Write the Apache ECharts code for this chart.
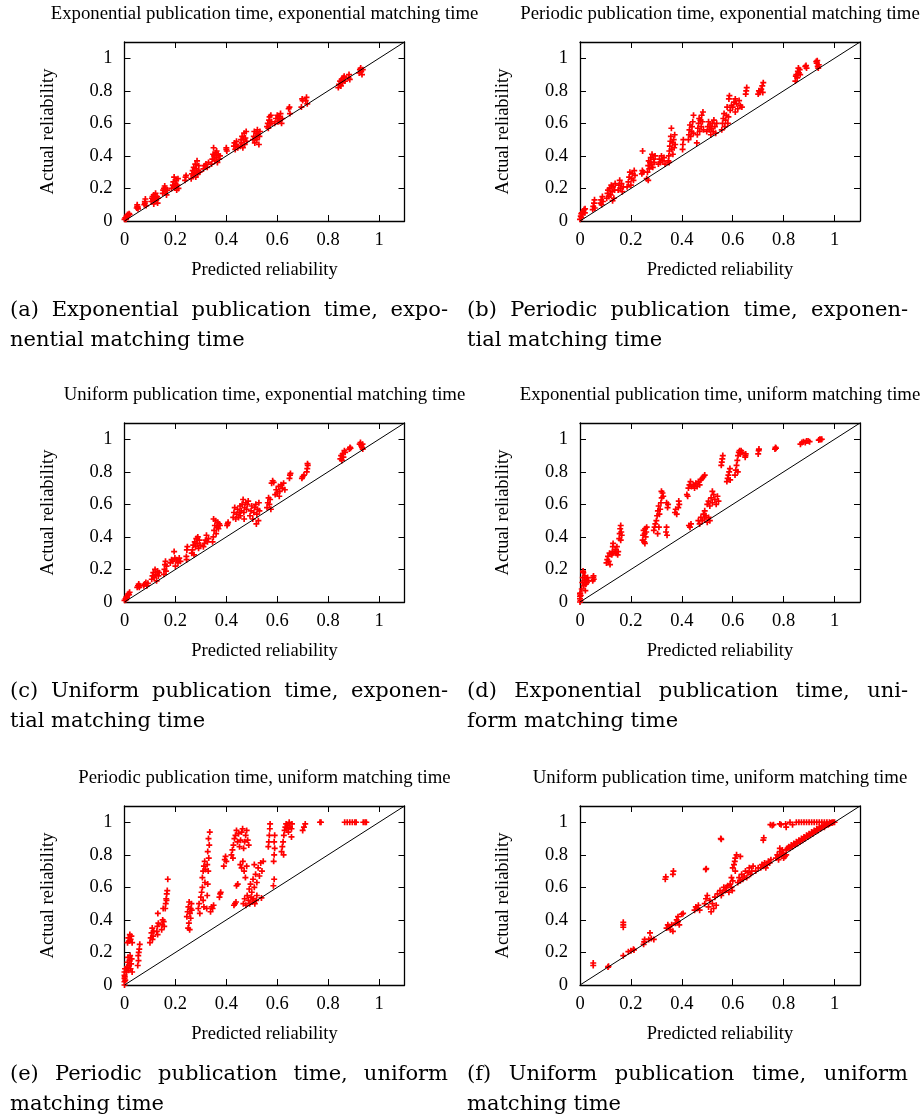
<!DOCTYPE html>
<html>
<head>
<meta charset="utf-8">
<script src="https://cdn.jsdelivr.net/npm/echarts@6/dist/echarts.min.js"></script>
<style>
html,body{margin:0;padding:0;background:#fff;}
#chart{width:924px;height:1118px;}
</style>
</head>
<body>
<div id="chart"></div>
<script>
// ---------------- data ----------------
const tickValues = [0, 0.2, 0.4, 0.6, 0.8, 1];
const axisMin = 0, axisMax = 1.1, axisStep = 0.2;
const xAxisName = 'Predicted reliability';
const yAxisName = 'Actual reliability';

const panelTitles = [
  'Exponential publication time, exponential matching time',
  'Periodic publication time, exponential matching time',
  'Uniform publication time, exponential matching time',
  'Exponential publication time, uniform matching time',
  'Periodic publication time, uniform matching time',
  'Uniform publication time, uniform matching time'
];

const captions = [
  ['(a) Exponential publication time, expo-', 'nential matching time'],
  ['(b) Periodic publication time, exponen-', 'tial matching time'],
  ['(c) Uniform publication time, exponen-', 'tial matching time'],
  ['(d) Exponential publication time, uni-', 'form matching time'],
  ['(e) Periodic publication time, uniform', 'matching time'],
  ['(f) Uniform publication time, uniform', 'matching time']
];

const diagonal = [[0, 0], [1.1, 1.1]];

const dataA = [
[0,0.01],[0.003,0.02],[0.005,0.015],[0.008,0.03],[0.01,0.025],[0.012,0.04],[0.015,0.035],[0.018,0.045],[0.02,0.04],[0.006,0.01],
[0.048,0.08],[0.05,0.09],[0.052,0.085],[0.05,0.1],[0.053,0.075],
[0.078,0.1],[0.08,0.12],[0.082,0.135],[0.08,0.11],[0.085,0.095],
[0.105,0.12],[0.108,0.14],[0.11,0.15],[0.112,0.13],[0.115,0.16],[0.118,0.12],[0.12,0.14],[0.122,0.17],[0.125,0.13],[0.128,0.15],[0.13,0.11],[0.132,0.14],[0.115,0.105],
[0.15,0.17],[0.152,0.19],[0.155,0.2],[0.158,0.215],[0.16,0.18],[0.162,0.2],[0.165,0.16],[0.168,0.19],
[0.185,0.2],[0.19,0.22],[0.192,0.24],[0.195,0.27],[0.198,0.21],[0.2,0.23],[0.203,0.25],[0.205,0.19],[0.208,0.22],[0.21,0.26],[0.212,0.2],
[0.238,0.25],[0.24,0.27],[0.242,0.28],
[0.262,0.26],[0.265,0.29],[0.268,0.31],[0.27,0.28],[0.272,0.33],[0.275,0.3],[0.278,0.35],[0.28,0.27],[0.282,0.32],[0.285,0.37],[0.288,0.29],[0.29,0.31],[0.292,0.34],[0.295,0.3],
[0.31,0.32],[0.315,0.34],[0.32,0.35],[0.325,0.33],[0.33,0.36],
[0.342,0.35],[0.345,0.38],[0.348,0.41],[0.35,0.45],[0.352,0.4],[0.355,0.37],[0.358,0.42],[0.36,0.39],[0.362,0.43],[0.365,0.36],[0.368,0.41],[0.372,0.38],[0.375,0.4],
[0.4,0.44],[0.4,0.45],[0.402,0.43],
[0.43,0.46],[0.432,0.48],[0.435,0.44],[0.438,0.47],[0.44,0.49],[0.445,0.45],
[0.455,0.46],[0.458,0.5],[0.46,0.48],[0.462,0.52],[0.465,0.45],[0.468,0.5],[0.47,0.54],[0.472,0.47],[0.475,0.51],[0.478,0.55],[0.48,0.49],
[0.505,0.5],[0.508,0.52],[0.51,0.55],[0.512,0.48],[0.515,0.51],[0.518,0.54],[0.52,0.5],[0.522,0.56],[0.525,0.53],[0.528,0.47],[0.53,0.52],[0.532,0.55],
[0.56,0.58],[0.563,0.6],[0.565,0.57],[0.568,0.62],[0.57,0.64],[0.572,0.59],[0.575,0.65],[0.578,0.61],
[0.59,0.6],[0.595,0.63],[0.6,0.65],[0.603,0.61],[0.607,0.64],[0.61,0.62],[0.613,0.66],[0.617,0.6],[0.62,0.63],
[0.645,0.69],[0.648,0.7],[0.65,0.66],
[0.695,0.7],[0.698,0.75],[0.7,0.74],[0.712,0.74],[0.715,0.76],[0.718,0.72],
[0.84,0.82],[0.843,0.84],[0.847,0.86],[0.85,0.83],[0.853,0.87],[0.857,0.85],[0.86,0.88],[0.863,0.89],[0.866,0.86],[0.88,0.88],[0.882,0.9],[0.885,0.87],
[0.922,0.91],[0.925,0.93],[0.928,0.94],[0.93,0.92],[0.933,0.9],[0.936,0.93]
];

const dataB = [
[0,0.01],[0.003,0.03],[0.006,0.02],[0.008,0.05],[0.01,0.04],[0.013,0.06],[0.016,0.07],[0.019,0.05],[0.02,0.075],[0.005,0.045],
[0.05,0.07],[0.052,0.09],[0.055,0.11],[0.057,0.13],[0.058,0.08],
[0.08,0.11],[0.083,0.13],[0.085,0.1],[0.088,0.15],[0.09,0.12],
[0.105,0.14],[0.108,0.17],[0.11,0.19],[0.113,0.15],[0.116,0.2],[0.12,0.16],[0.123,0.22],[0.126,0.18],[0.13,0.21],[0.133,0.14],[0.136,0.19],[0.138,0.23],[0.128,0.125],
[0.15,0.19],[0.153,0.22],[0.156,0.25],[0.16,0.2],[0.163,0.23],[0.166,0.18],[0.17,0.21],
[0.185,0.21],[0.19,0.24],[0.193,0.27],[0.196,0.3],[0.2,0.22],[0.203,0.26],[0.206,0.29],[0.21,0.25],[0.213,0.31],[0.216,0.28],
[0.243,0.29],[0.245,0.31],[0.246,0.43],[0.248,0.3],
[0.262,0.26],[0.265,0.3],[0.268,0.34],[0.27,0.37],[0.272,0.32],[0.275,0.36],[0.278,0.39],[0.28,0.35],[0.283,0.41],[0.286,0.33],[0.289,0.38],[0.292,0.36],[0.295,0.4],[0.268,0.25],
[0.308,0.35],[0.312,0.38],[0.316,0.36],[0.32,0.4],[0.325,0.37],[0.33,0.39],[0.334,0.35],
[0.347,0.37],[0.349,0.4],[0.351,0.43],[0.353,0.46],[0.355,0.49],[0.357,0.52],[0.359,0.57],[0.361,0.44],[0.363,0.48],[0.365,0.41],[0.368,0.5],[0.37,0.45],[0.372,0.53],[0.374,0.47],[0.35,0.36],
[0.403,0.44],[0.404,0.47],[0.406,0.5],
[0.426,0.5],[0.428,0.53],[0.43,0.56],[0.432,0.59],[0.435,0.52],[0.438,0.55],[0.44,0.58],[0.443,0.61],[0.446,0.65],[0.445,0.54],
[0.459,0.48],[0.461,0.53],[0.463,0.57],[0.466,0.6],[0.468,0.63],[0.47,0.55],[0.473,0.62],[0.476,0.58],[0.478,0.65],[0.481,0.61],[0.483,0.67],[0.485,0.56],
[0.498,0.55],[0.502,0.58],[0.505,0.61],[0.508,0.56],[0.511,0.59],[0.514,0.53],[0.517,0.57],[0.52,0.6],[0.523,0.55],[0.526,0.62],[0.53,0.58],[0.533,0.54],[0.537,0.6],
[0.557,0.56],[0.56,0.6],[0.563,0.63],[0.566,0.66],[0.569,0.58],[0.572,0.62],[0.575,0.65],[0.578,0.7],[0.581,0.6],[0.583,0.64],
[0.585,0.75],[0.587,0.77],[0.59,0.68],[0.595,0.71],[0.6,0.7],[0.605,0.73],[0.61,0.67],[0.615,0.72],[0.62,0.69],[0.625,0.74],[0.63,0.71],[0.636,0.7],[0.61,0.75],
[0.651,0.78],[0.653,0.8],[0.655,0.82],
[0.7,0.78],[0.703,0.8],[0.706,0.79],[0.712,0.81],[0.716,0.83],[0.72,0.85],[0.718,0.79],
[0.846,0.86],[0.848,0.89],[0.85,0.9],[0.853,0.88],[0.856,0.92],[0.86,0.91],[0.863,0.93],[0.865,0.9],[0.858,0.94],
[0.885,0.95],[0.888,0.955],[0.89,0.94],
[0.928,0.98],[0.93,0.97],[0.932,0.985],[0.934,0.95],[0.936,0.94],[0.938,0.96]
];

const dataC = [
[0,0.01],[0.004,0.02],[0.007,0.03],[0.01,0.025],[0.012,0.04],[0.015,0.05],[0.018,0.045],[0.02,0.06],[0.006,0.015],
[0.05,0.09],[0.053,0.1],[0.056,0.11],[0.058,0.09],[0.06,0.1],
[0.076,0.1],[0.08,0.11],[0.084,0.12],[0.088,0.1],[0.092,0.115],
[0.107,0.14],[0.11,0.16],[0.113,0.18],[0.116,0.15],[0.12,0.2],[0.123,0.17],[0.126,0.13],[0.13,0.19],[0.133,0.16],[0.136,0.18],
[0.155,0.17],[0.157,0.2],[0.159,0.23],[0.161,0.25],[0.163,0.19],[0.165,0.22],
[0.18,0.24],[0.185,0.26],[0.19,0.25],[0.195,0.31],[0.198,0.27],[0.2,0.22],[0.205,0.26],[0.21,0.24],[0.215,0.27],[0.22,0.25],
[0.243,0.28],[0.245,0.32],[0.247,0.34],[0.244,0.26],
[0.264,0.3],[0.267,0.32],[0.27,0.35],[0.273,0.29],[0.276,0.37],[0.279,0.34],[0.282,0.39],[0.285,0.36],[0.288,0.4],[0.291,0.33],[0.294,0.38],[0.297,0.35],
[0.31,0.34],[0.314,0.36],[0.318,0.38],[0.322,0.41],[0.326,0.37],[0.33,0.39],
[0.346,0.37],[0.349,0.4],[0.352,0.44],[0.355,0.47],[0.358,0.5],[0.36,0.42],[0.363,0.46],[0.366,0.49],[0.369,0.45],[0.372,0.48],[0.375,0.47],[0.35,0.51],
[0.403,0.47],[0.405,0.48],[0.407,0.49],
[0.427,0.52],[0.43,0.55],[0.433,0.58],[0.437,0.51],[0.44,0.54],[0.444,0.57],[0.448,0.52],[0.452,0.55],[0.454,0.59],
[0.455,0.53],[0.459,0.56],[0.462,0.6],[0.466,0.63],[0.469,0.55],[0.472,0.58],[0.476,0.61],[0.48,0.57],[0.483,0.6],[0.486,0.62],[0.47,0.51],
[0.493,0.53],[0.497,0.56],[0.5,0.59],[0.504,0.51],[0.508,0.55],[0.512,0.58],[0.516,0.6],[0.52,0.54],[0.523,0.57],[0.526,0.5],[0.53,0.56],[0.528,0.61],[0.518,0.48],
[0.56,0.58],[0.563,0.61],[0.566,0.64],[0.569,0.6],[0.572,0.63],[0.575,0.57],
[0.578,0.73],[0.582,0.745],[0.586,0.735],
[0.592,0.66],[0.596,0.69],[0.6,0.67],[0.605,0.71],[0.61,0.68],[0.615,0.72],[0.62,0.7],[0.625,0.73],[0.63,0.69],[0.608,0.65],
[0.648,0.76],[0.65,0.78],[0.652,0.79],
[0.697,0.76],[0.7,0.77],[0.705,0.78],
[0.716,0.8],[0.718,0.82],[0.72,0.84],[0.719,0.85],
[0.848,0.88],[0.851,0.9],[0.854,0.87],[0.857,0.91],[0.86,0.89],[0.864,0.93],[0.867,0.92],
[0.883,0.94],[0.886,0.95],[0.888,0.945],
[0.924,0.97],[0.927,0.98],[0.93,0.96],[0.933,0.95],[0.936,0.94],[0.935,0.97]
];

const dataD = [
[0,0],[0,0.02],[0,0.035],[0,0.05],[0.002,0.01],[0.003,0.04],[0.001,0.055],
[0.007,0.08],[0.009,0.12],[0.011,0.15],[0.013,0.18],[0.015,0.1],[0.017,0.13],[0.019,0.16],[0.021,0.07],[0.023,0.11],[0.025,0.14],[0.027,0.12],[0.03,0.15],[0.033,0.13],[0.012,0.19],
[0.05,0.13],[0.052,0.15],[0.054,0.14],[0.053,0.16],
[0.104,0.24],[0.107,0.26],[0.11,0.28],[0.113,0.25],[0.116,0.3],[0.118,0.23],
[0.125,0.29],[0.127,0.31],[0.129,0.34],[0.13,0.36],[0.128,0.3],
[0.138,0.32],[0.142,0.3],[0.145,0.34],[0.148,0.29],[0.15,0.31],
[0.154,0.39],[0.156,0.42],[0.158,0.45],[0.16,0.47],[0.162,0.43],[0.164,0.41],[0.16,0.38],
[0.246,0.38],[0.248,0.41],[0.25,0.44],[0.252,0.37],[0.254,0.42],[0.256,0.45],[0.258,0.4],[0.26,0.43],[0.262,0.46],[0.255,0.36],
[0.29,0.44],[0.293,0.46],[0.296,0.48],
[0.3,0.5],[0.303,0.53],[0.306,0.56],[0.309,0.59],[0.312,0.54],[0.315,0.57],[0.318,0.61],[0.321,0.64],[0.324,0.67],[0.327,0.65],[0.32,0.68],[0.305,0.42],[0.31,0.46],
[0.338,0.43],[0.34,0.46],[0.342,0.41],[0.344,0.58],[0.346,0.6],[0.34,0.61],
[0.373,0.55],[0.376,0.57],[0.38,0.54],[0.386,0.58],[0.39,0.6],[0.388,0.62],
[0.42,0.66],[0.423,0.65],[0.426,0.7],[0.43,0.72],[0.434,0.74],[0.438,0.71],[0.428,0.47],[0.432,0.46],[0.436,0.48],
[0.445,0.72],[0.45,0.7],[0.455,0.73],[0.46,0.71],[0.465,0.74],[0.47,0.72],[0.475,0.75],[0.48,0.76],[0.485,0.77],[0.49,0.78],
[0.465,0.5],[0.47,0.48],[0.475,0.52],[0.48,0.5],[0.485,0.54],[0.49,0.51],[0.495,0.53],[0.5,0.49],[0.505,0.52],[0.51,0.5],[0.49,0.56],
[0.5,0.6],[0.505,0.62],[0.51,0.59],[0.515,0.64],[0.52,0.61],[0.525,0.66],[0.53,0.63],[0.535,0.6],[0.54,0.65],[0.544,0.62],[0.52,0.68],
[0.555,0.84],[0.557,0.86],[0.559,0.88],[0.561,0.9],
[0.577,0.74],[0.58,0.76],[0.583,0.78],[0.586,0.8],[0.589,0.82],[0.59,0.75],
[0.609,0.78],[0.612,0.81],[0.615,0.84],[0.618,0.87],[0.621,0.9],[0.624,0.92],[0.627,0.93],[0.63,0.91],[0.633,0.93],[0.636,0.92],[0.62,0.8],
[0.649,0.89],[0.65,0.9],[0.651,0.91],
[0.7,0.91],[0.702,0.93],[0.703,0.94],
[0.766,0.94],[0.768,0.95],[0.77,0.945],
[0.866,0.97],[0.872,0.98],[0.878,0.985],[0.885,0.98],[0.89,0.99],[0.896,0.99],[0.902,0.985],
[0.938,0.995],[0.942,1.0],[0.946,0.998],[0.95,1.0]
];

const dataE = [
[0,0],[0,0.02],[0,0.04],[0,0.06],[0,0.08],[0.002,0.1],[0.003,0.03],[0.001,0.05],
[0.008,0.08],[0.01,0.11],[0.012,0.14],[0.014,0.17],[0.016,0.09],[0.018,0.12],[0.02,0.15],[0.022,0.18],[0.024,0.1],[0.026,0.13],[0.028,0.16],[0.03,0.08],
[0.012,0.26],[0.015,0.29],[0.018,0.27],[0.021,0.31],[0.024,0.28],[0.027,0.3],[0.03,0.26],
[0.052,0.12],[0.054,0.18],[0.056,0.2],[0.058,0.22],[0.06,0.25],[0.055,0.15],
[0.1,0.26],[0.103,0.29],[0.106,0.32],[0.109,0.35],[0.112,0.3],[0.115,0.33],[0.11,0.28],
[0.127,0.33],[0.129,0.36],[0.131,0.44],[0.133,0.38],[0.13,0.31],
[0.146,0.34],[0.148,0.37],[0.15,0.4],[0.152,0.47],[0.154,0.39],[0.156,0.36],
[0.16,0.47],[0.162,0.5],[0.164,0.53],[0.166,0.56],[0.168,0.58],[0.17,0.65],[0.165,0.52],
[0.245,0.42],[0.248,0.45],[0.251,0.48],[0.254,0.51],[0.257,0.44],[0.26,0.47],[0.263,0.5],[0.25,0.35],[0.253,0.38],[0.256,0.34],[0.26,0.41],[0.264,0.46],
[0.29,0.47],[0.293,0.5],[0.296,0.44],[0.3,0.54],[0.303,0.57],[0.306,0.6],[0.309,0.52],[0.312,0.48],
[0.306,0.66],[0.309,0.7],[0.312,0.73],[0.315,0.76],[0.318,0.71],[0.316,0.63],
[0.323,0.47],[0.325,0.55],[0.327,0.62],[0.329,0.7],[0.331,0.78],[0.333,0.86],[0.335,0.94],[0.33,0.9],[0.327,0.82],[0.325,0.74],
[0.338,0.45],[0.342,0.48],[0.346,0.47],[0.35,0.49],
[0.373,0.54],[0.376,0.56],[0.378,0.57],
[0.39,0.73],[0.394,0.77],[0.397,0.79],[0.4,0.76],
[0.43,0.49],[0.434,0.5],[0.438,0.51],
[0.42,0.8],[0.424,0.83],[0.428,0.86],[0.432,0.9],[0.436,0.92],[0.44,0.95],[0.444,0.88],[0.448,0.93],[0.452,0.85],[0.456,0.89],[0.46,0.94],[0.464,0.96],[0.426,0.78],
[0.44,0.61],[0.445,0.62],
[0.468,0.84],[0.472,0.88],[0.476,0.92],[0.48,0.95],[0.484,0.89],[0.488,0.86],
[0.455,0.74],[0.46,0.72],[0.465,0.76],[0.47,0.7],[0.475,0.66],[0.48,0.73],
[0.467,0.5],[0.472,0.53],[0.477,0.49],[0.482,0.55],[0.487,0.52],[0.492,0.5],[0.497,0.54],[0.502,0.51],[0.507,0.53],[0.512,0.5],[0.517,0.52],[0.52,0.55],
[0.49,0.59],[0.495,0.62],[0.5,0.57],[0.505,0.65],[0.51,0.6],[0.515,0.68],[0.52,0.63],[0.525,0.72],[0.53,0.67],[0.535,0.75],[0.54,0.7],[0.545,0.76],[0.51,0.74],
[0.538,0.535],
[0.565,0.85],[0.567,0.88],[0.569,0.92],[0.571,0.96],[0.572,0.99],
[0.585,0.61],[0.588,0.65],[0.586,0.76],[0.588,0.8],[0.59,0.84],[0.588,0.88],[0.59,0.92],
[0.617,0.82],[0.62,0.85],[0.623,0.88],[0.626,0.92],[0.629,0.95],[0.632,0.97],[0.635,0.99],[0.638,0.96],[0.641,0.98],[0.644,0.94],[0.647,1.0],[0.65,0.97],[0.625,0.8],
[0.656,0.91],[0.656,0.96],[0.658,0.99],
[0.7,0.95],[0.705,0.97],[0.71,0.99],
[0.768,1.0],[0.772,1.0],
[0.865,1.0],[0.875,1.0],[0.885,1.0],[0.895,1.0],[0.905,1.0],[0.91,1.0],
[0.938,1.0],[0.945,1.0],[0.95,1.0]
];

const dataF = [
[0.052,0.12],[0.052,0.135],[0.11,0.11],[0.112,0.115],[0.17,0.355],[0.17,0.37],[0.17,0.385],[0.17,0.18],
[0.19,0.205],[0.2,0.21],[0.21,0.22],[0.212,0.215],
[0.25,0.25],[0.252,0.265],[0.254,0.28],
[0.27,0.28],[0.275,0.32],[0.28,0.285],[0.29,0.28],
[0.335,0.65],[0.337,0.665],[0.365,0.68],[0.367,0.7],
[0.34,0.35],[0.345,0.37],[0.35,0.36],[0.355,0.34],[0.36,0.37],[0.365,0.33],
[0.375,0.38],[0.38,0.4],[0.385,0.39],[0.39,0.37],[0.385,0.42],
[0.4,0.435],[0.405,0.44],
[0.45,0.46],[0.455,0.48],[0.46,0.47],[0.465,0.49],[0.47,0.46],
[0.494,0.71],[0.496,0.715],
[0.49,0.5],[0.495,0.53],[0.5,0.55],[0.505,0.48],[0.51,0.52],[0.515,0.45],[0.52,0.5],[0.525,0.47],[0.53,0.54],[0.535,0.49],
[0.553,0.9],[0.555,0.895],
[0.54,0.56],[0.55,0.58],[0.555,0.55],[0.56,0.57],[0.565,0.6],[0.57,0.58],[0.575,0.6],[0.58,0.61],[0.585,0.57],[0.59,0.62],[0.595,0.6],[0.6,0.64],[0.598,0.58],
[0.595,0.66],[0.6,0.72],[0.605,0.74],[0.608,0.76],[0.61,0.78],[0.615,0.8],[0.63,0.79],[0.61,0.7],
[0.62,0.63],[0.625,0.66],[0.63,0.64],[0.635,0.68],[0.64,0.65],[0.645,0.67],[0.65,0.7],[0.655,0.66],[0.66,0.69],[0.665,0.72],[0.67,0.68],[0.675,0.7],[0.68,0.73],[0.69,0.7],[0.7,0.72],
[0.71,0.72],[0.715,0.74],[0.72,0.73],[0.725,0.75],[0.73,0.72],[0.735,0.74],[0.74,0.76],[0.745,0.75],[0.75,0.77],
[0.72,0.89],[0.722,0.905],
[0.748,0.985],[0.755,0.98],[0.76,0.985],[0.785,0.99],[0.79,0.985],[0.808,0.99],[0.81,0.97],[0.835,0.985],
[0.825,1.0],[0.85,1.0],[0.86,1.0],[0.87,1.0],[0.88,1.0],[0.89,1.0],[0.9,1.0],[0.91,1.0],[0.92,1.0],[0.93,1.0],[0.94,1.0],[0.95,1.0],[0.96,1.0],[0.97,1.0],[0.98,1.0],[0.99,1.0],[1.0,1.0],
[0.77,0.78],[0.775,0.8],[0.78,0.79],[0.785,0.82],[0.79,0.8],[0.795,0.83],[0.8,0.81],[0.805,0.79],[0.78,0.77],[0.785,0.84],[0.8,0.78],[0.81,0.8],
[0.81,0.83],[0.815,0.84],[0.82,0.85],[0.825,0.84],[0.83,0.86],[0.835,0.85],[0.84,0.87],[0.845,0.86],[0.85,0.88],[0.855,0.87],
[0.86,0.89],[0.865,0.88],[0.87,0.9],[0.875,0.89],[0.88,0.91],[0.885,0.9],[0.89,0.92],[0.895,0.91],[0.9,0.93],[0.905,0.92],
[0.91,0.94],[0.915,0.93],[0.92,0.95],[0.925,0.94],[0.93,0.96],[0.935,0.95],[0.94,0.97],[0.945,0.96],[0.95,0.97],[0.955,0.98],[0.96,0.97],[0.965,0.98],[0.97,0.99],[0.975,0.985],[0.98,0.99],[0.985,0.995],[0.99,0.995],[0.995,1.0]
];

const panelData = [dataA, dataB, dataC, dataD, dataE, dataF];

// ---------------- layout & style ----------------
const serif = '"Liberation Serif", "Times New Roman", serif';
const capFont = '"DejaVu Serif", serif';
const colLeft = [124.5, 580];
const rowTop = [42, 423, 806];
const plotW = 280, plotH = 179;
const rowShift = [0, 381, 764];
const capX = [[10, 448], [467, 908]];
const capY = [311, 341];
const capSize = 21;

const chart = echarts.init(document.getElementById('chart'), null, {renderer: 'canvas'});

const grids = [], xAxes = [], yAxes = [], series = [], graphics = [];
const plusSymbol = 'path://M1.8,0L3.2,0L3.2,1.8L5,1.8L5,3.2L3.2,3.2L3.2,5L1.8,5L1.8,3.2L0,3.2L0,1.8L1.8,1.8Z';
const black = '#000';

function baseAxis(i) {
  return {
    gridIndex: i, type: 'value', min: axisMin, max: axisMax, interval: axisStep,
    axisLine: {show: true, onZero: false, lineStyle: {color: black, width: 1.3}},
    axisTick: {show: true, inside: true, length: 6, lineStyle: {color: black, width: 1}},
    splitLine: {show: false},
    axisLabel: {show: false}
  };
}

for (let i = 0; i < 6; i++) {
  const col = i % 2, row = Math.floor(i / 2);
  const left = colLeft[col], top = rowTop[row];
  grids.push({left: left, top: top, width: plotW, height: plotH, show: false, containLabel: false});

  const xb = baseAxis(i);
  xb.position = 'bottom';
  xb.axisLabel = {show: true, margin: 10, fontSize: 18.5, color: black, fontFamily: serif, showMaxLabel: false};
  xb.name = xAxisName; xb.nameLocation = 'middle'; xb.nameGap = 40;
  xb.nameTextStyle = {fontSize: 18.5, color: black, fontFamily: serif};
  const xt = baseAxis(i); xt.position = 'top';
  xAxes.push(xb, xt);

  const yl = baseAxis(i);
  yl.position = 'left';
  yl.axisLabel = {show: true, margin: 12, fontSize: 18.5, color: black, fontFamily: serif, showMaxLabel: false};
  yl.name = yAxisName; yl.nameLocation = 'middle'; yl.nameGap = 67;
  yl.nameTextStyle = {fontSize: 18.5, color: black, fontFamily: serif};
  const yr = baseAxis(i); yr.position = 'right';
  yAxes.push(yl, yr);

  series.push({
    type: 'scatter', xAxisIndex: 2 * i, yAxisIndex: 2 * i, data: panelData[i],
    symbol: plusSymbol, symbolSize: 6, itemStyle: {color: '#ff0000', opacity: 1},
    z: 2, silent: true, clip: false
  });
  series.push({
    type: 'line', xAxisIndex: 2 * i, yAxisIndex: 2 * i, data: diagonal,
    symbol: 'none', lineStyle: {color: black, width: 1}, z: 3, silent: true
  });

  // panel title
  graphics.push({
    type: 'text', x: left + plotW / 2, y: 14 + rowShift[row],
    style: {text: panelTitles[i], fontSize: 18.8, fontFamily: serif, fill: black, align: 'center', verticalAlign: 'middle'}
  });
}

// captions (justified first line)
const ctx = document.createElement('canvas').getContext('2d');
ctx.font = capSize + 'px ' + capFont;
function addLine(text, x0, x1, y, justify) {
  const words = text.split(' ');
  const widths = words.map(w => ctx.measureText(w).width);
  const total = widths.reduce((a, b) => a + b, 0);
  const gap = (justify && words.length > 1) ? (x1 - x0 - total) / (words.length - 1) : ctx.measureText(' ').width;
  let x = x0;
  words.forEach((w, k) => {
    graphics.push({type: 'text', x: x, y: y,
      style: {text: w, fontSize: capSize, fontFamily: capFont, fill: black, align: 'left', verticalAlign: 'middle'}});
    x += widths[k] + gap;
  });
}
for (let i = 0; i < 6; i++) {
  const col = i % 2, row = Math.floor(i / 2);
  addLine(captions[i][0], capX[col][0], capX[col][1], capY[0] + rowShift[row], true);
  addLine(captions[i][1], capX[col][0], capX[col][1], capY[1] + rowShift[row], false);
}

chart.setOption({
  animation: false,
  backgroundColor: '#fff',
  grid: grids, xAxis: xAxes, yAxis: yAxes, series: series,
  graphic: graphics
});
</script>
</body>
</html>
